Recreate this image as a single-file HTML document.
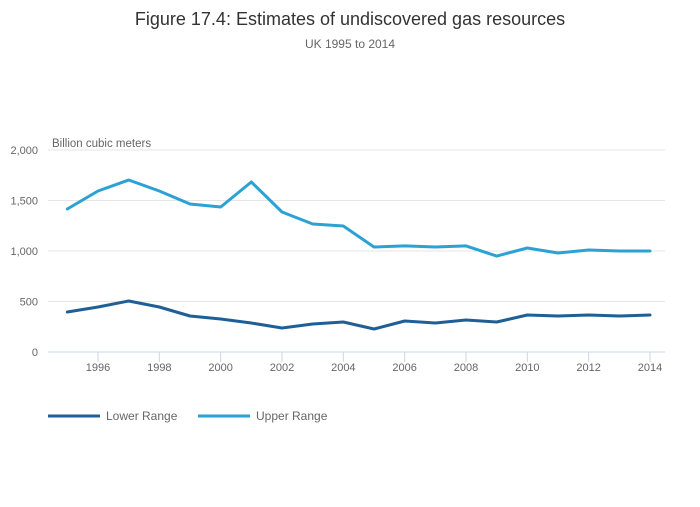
<!DOCTYPE html>
<html><head><meta charset="utf-8"><style>
body{margin:0;background:#fff;font-family:"Liberation Sans",sans-serif;}
svg text{font-family:"Liberation Sans",sans-serif;}
</style></head><body>
<svg width="700" height="502">
<text x="350" y="25" text-anchor="middle" font-size="18" fill="#333">Figure 17.4: Estimates of undiscovered gas resources</text>
<text x="350" y="48" text-anchor="middle" font-size="12" fill="#666">UK 1995 to 2014</text>
<text x="52" y="147" font-size="11.5" fill="#666">Billion cubic meters</text>
<g id="grid"></g><g id="axes"></g><g id="series"></g>
<g>
<g><line x1="48" y1="416" x2="100" y2="416" stroke="#1f5f97" stroke-width="3"/><text x="106" y="420" font-size="12" fill="#666">Lower Range</text></g>
<g><line x1="198" y1="416" x2="250" y2="416" stroke="#2ba2d4" stroke-width="3"/><text x="256" y="420" font-size="12" fill="#666">Upper Range</text></g>
</g>
</svg>
<script>
const years=[1995,1996,1997,1998,1999,2000,2001,2002,2003,2004,2005,2006,2007,2008,2009,2010,2011,2012,2013,2014];
const lowerRange=[396,446,505,446,356,327,287,238,277,297,228,307,287,317,297,366,356,366,356,366];
const upperRange=[1416,1594,1703,1594,1465,1436,1683,1386,1267,1248,1040,1050,1040,1050,950,1030,980,1010,1000,1000];
const yTicks=[0,500,1000,1500,2000];
const xTicks=[1996,1998,2000,2002,2004,2006,2008,2010,2012,2014];
const NS="http://www.w3.org/2000/svg";
const xs=y=>98+(y-1996)*(650-98)/18;
const ys=v=>352-v*(352-150)/2000;
const grid=document.getElementById('grid'),axes=document.getElementById('axes'),ser=document.getElementById('series');
function mk(tag,attrs,parent){const e=document.createElementNS(NS,tag);for(const k in attrs)e.setAttribute(k,attrs[k]);parent.appendChild(e);return e;}
yTicks.forEach(v=>{
 if(v>0){const l=mk('line',{x1:48,x2:665,y1:ys(v),y2:ys(v),stroke:'#e6e6e6'},grid);
 
 }
 const t=mk('text',{x:38,y:ys(v)+4,'text-anchor':'end','font-size':11,fill:'#666'},axes);
 t.textContent=v.toLocaleString('en-US');
 
 
});
const ax=mk('line',{x1:48,x2:665,y1:352,y2:352,stroke:'#ccd6eb'},axes);


xTicks.forEach(y=>{
 const tk=mk('line',{x1:xs(y),x2:xs(y),y1:352,y2:362,stroke:'#ccd6eb'},axes);
 
 
 const t=mk('text',{x:xs(y),y:371,'text-anchor':'middle','font-size':11,fill:'#666'},axes);
 t.textContent=y;
 
 
});
function line(vals,color,name){
 const d=vals.map((v,i)=>(i?'L':'M')+xs(years[i]).toFixed(1)+','+ys(v).toFixed(1)).join('');
 const p=mk('path',{d:d,fill:'none',stroke:color,'stroke-width':3,'stroke-linejoin':'round','stroke-linecap':'round'},ser);
 
 
}
line(lowerRange,'#1f5f97','lower-range-line');
line(upperRange,'#2ba2d4','upper-range-line');
</script>
</body></html>
